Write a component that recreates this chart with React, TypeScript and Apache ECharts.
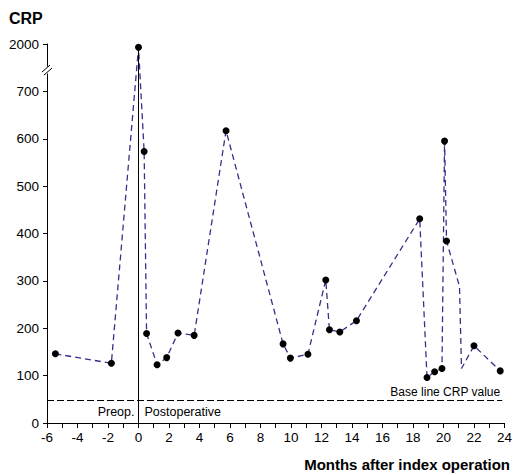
import React, { useEffect, useRef } from "react";
import * as echarts from "echarts";

// Months after index operation (x) and CRP value (y)
const months = [-5.45, -1.78, 0, 0.37, 0.53, 1.22, 1.85, 2.59, 3.65, 5.74, 9.48, 9.96, 11.11, 12.28, 12.52, 13.2, 14.29, 18.44, 18.92, 19.42, 19.9, 20.07, 20.2, 21.05, 21.18, 22.0, 23.72];
const crp = [146, 126, 1993, 573, 189, 123, 138, 190, 185, 617, 167, 137, 145, 302, 197, 192, 216, 431, 96, 108, 115, 595, 384, 288, 115, 163, 110];
// vertices drawn without a dot
const hasMarker = [true, true, true, true, true, true, true, true, true, true, true, true, true, true, true, true, true, true, true, true, true, true, true, false, false, true, true];

const baselineCrp = 48;
const xMin = -6;
const xMax = 24;
const xInterval = 1;
const yMax = 800; // axis position for 2000 after the break
const yInterval = 100;
const breakStart = 750; // axis value where the break sits
const breakEnd = 1950;
const breakMarkAt = 745;

const toAxis = (v: number) => (v > breakStart ? breakStart + (v - breakEnd) : v);
const fromAxis = (a: number) => (a > breakStart ? a - breakStart + breakEnd : a);

const FONT = "'Liberation Sans', Arial, Helvetica, sans-serif";

export default function App() {
  const ref = useRef<HTMLDivElement>(null);
  useEffect(() => {
    if (!ref.current) return;
    const chart = echarts.init(ref.current, null, { renderer: "svg" });
    const peak = Math.max(...crp);
    chart.setOption({
      animation: false,
      backgroundColor: "#fff",
      grid: { left: 47, right: 8, top: 44, bottom: 52, containLabel: false },
      xAxis: {
        type: "value",
        min: xMin,
        max: xMax,
        interval: xInterval,
        axisLine: { show: true, onZero: false, lineStyle: { color: "#000", width: 1 } },
        axisTick: { show: true, length: 5, lineStyle: { color: "#000", width: 1 } },
        axisLabel: {
          margin: 7,
          color: "#000",
          fontSize: 13.5,
          fontFamily: FONT,
          formatter: (v: number) => (v % 2 === 0 ? String(v) : ""),
        },
        splitLine: { show: false },
      },
      yAxis: {
        type: "value",
        min: 0,
        max: yMax,
        interval: yInterval,
        axisLine: { show: true, onZero: false, lineStyle: { color: "#000", width: 1 } },
        axisTick: { show: true, length: 4, lineStyle: { color: "#000", width: 1 } },
        axisLabel: {
          margin: 8,
          color: "#000",
          fontSize: 13.5,
          fontFamily: FONT,
          formatter: (v: number) => (v <= 700 || v === yMax ? String(fromAxis(v)) : ""),
        },
        splitLine: { show: false },
      },
      series: [
        {
          type: "line",
          z: 1,
          data: [],
          markLine: {
            silent: true,
            symbol: "none",
            data: [
              [
                { coord: [0, 0], lineStyle: { color: "#000", width: 1, type: "solid" }, label: { show: false } },
                { coord: [0, toAxis(peak)] },
              ],
              [
                {
                  coord: [xMin, baselineCrp],
                  lineStyle: { color: "#000", width: 1, type: [7, 3] },
                  label: {
                    show: true,
                    position: "insideEndTop",
                    formatter: "Base line CRP value",
                    color: "#000",
                    fontSize: 12,
                    fontFamily: FONT,
                    distance: 2,
                  },
                },
                { coord: [23.85, baselineCrp] },
              ],
            ],
          },
        },
        {
          type: "line",
          z: 3,
          data: months.map((m, i) => ({
            value: [m, toAxis(crp[i])],
            symbol: hasMarker[i] ? "circle" : "none",
          })),
          symbolSize: 7,
          itemStyle: { color: "#000" },
          lineStyle: { color: "#35308a", width: 1.3, type: [6, 4] },
        },
      ],
    });

    const [axX, brY] = chart.convertToPixel({ gridIndex: 0 }, [xMin, breakMarkAt]) as number[];
    const [zeroX, zeroY] = chart.convertToPixel({ gridIndex: 0 }, [0, 0]) as number[];
    chart.setOption({
      graphic: [
        { type: "rect", shape: { x: axX - 5, y: brY - 3.5, width: 10, height: 7 }, style: { fill: "#fff" }, z: 10 },
        { type: "line", shape: { x1: axX - 5, y1: brY + 2, x2: axX + 3, y2: brY - 5 }, style: { stroke: "#000", lineWidth: 1 }, z: 11 },
        { type: "line", shape: { x1: axX - 3, y1: brY + 5, x2: axX + 5, y2: brY - 2 }, style: { stroke: "#000", lineWidth: 1 }, z: 11 },
        { type: "text", x: 9, y: 10, style: { text: "CRP", font: `bold 16px ${FONT}`, fill: "#000" } },
        {
          type: "text",
          x: 510,
          y: 457,
          style: { text: "Months after index operation", font: `bold 15px ${FONT}`, fill: "#000", align: "right" },
        },
        {
          type: "text",
          x: zeroX - 4,
          y: zeroY - 18,
          style: { text: "Preop.", font: `12.5px ${FONT}`, fill: "#000", align: "right" },
        },
        {
          type: "text",
          x: zeroX + 6,
          y: zeroY - 18,
          style: { text: "Postoperative", font: `12.5px ${FONT}`, fill: "#000", align: "left" },
        },
      ],
    });
    return () => chart.dispose();
  }, []);
  return <div ref={ref} style={{ position: "fixed", left: 0, top: 0, width: 515, height: 475 }} />;
}
